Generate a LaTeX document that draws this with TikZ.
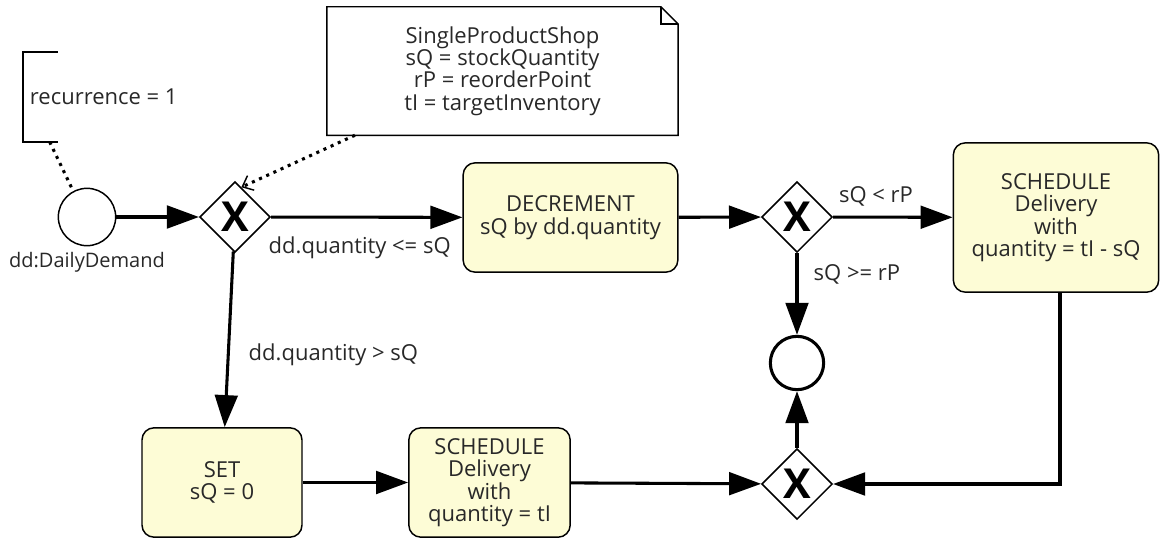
\documentclass[tikz,border=0pt]{standalone}
\usepackage{fontspec}
\setmainfont{Open Sans}
\usetikzlibrary{arrows.meta,shapes.geometric}
\definecolor{taskfill}{RGB}{253,252,214}
\definecolor{ink}{RGB}{40,40,40}

\begin{document}
\begin{tikzpicture}[x=0.75pt,y=-0.75pt,
    txt/.style={font=\fontsize{16.5}{16.8}\selectfont, align=center, text=ink},
    task/.style={txt, draw, line width=1.1pt, rounded corners=9pt, fill=taskfill, inner sep=0pt},
    gate/.style={diamond, draw, line width=1.1pt, inner sep=0pt, minimum width=53pt, minimum height=53pt,
        font=\fontsize{31}{31}\selectfont\bfseries},
    flow/.style={line width=2.3pt, -{Triangle[length=24pt,width=17pt]}},
    assoc/.style={line width=2.3pt, dash pattern=on 2.3pt off 3.6pt}]
    \useasboundingbox (0,0) rectangle (1161,539);

    \node[circle, draw, line width=1.1pt, minimum size=43pt, inner sep=0pt] (start) at (87,217) {};
    \node[txt, font=\fontsize{15}{16}\selectfont] (startlbl) at (87,262) {dd:DailyDemand};
    \node[txt, anchor=north west, minimum height=67pt, inner xsep=5pt, inner ysep=0pt] (recur) at (23,52) {recurrence = 1};
    \draw[line width=1.1pt] ([xshift=26pt]recur.north west) -- (recur.north west) -- (recur.south west) -- ([xshift=26pt]recur.south west);

    \node[gate] (g1) at (235,217) {X};
    \node[gate] (g2) at (797,217) {X};
    \node[gate] (g3) at (797,484) {X};
    \node[circle, draw, line width=2.3pt, minimum size=40pt, inner sep=0pt] (stop) at (797,363) {};

    \node[task, minimum width=161pt, minimum height=82pt] (decr) at (570.5,217.5) {DECREMENT\\sQ by dd.quantity};
    \node[task, minimum width=154pt, minimum height=112pt] (sched1) at (1056,217.5) {SCHEDULE\\Delivery\\with\\quantity = tI - sQ};
    \node[task, minimum width=120pt, minimum height=82pt] (set) at (222,482.5) {SET\\sQ = 0};
    \node[task, minimum width=121pt, minimum height=82pt] (sched2) at (489.5,482.5) {SCHEDULE\\Delivery\\with\\quantity = tI};

    \node[txt, minimum width=263pt, minimum height=96pt] (note) at (502.5,71) {SingleProductShop\\sQ = stockQuantity\\rP = reorderPoint\\tI = targetInventory};
    \draw[line width=1.1pt] (note.north west) -- ([xshift=-13pt]note.north east) -- ([yshift=-13pt]note.north east)
        -- (note.south east) -- (note.south west) -- cycle;
    \draw[line width=1.1pt] ([xshift=-13pt]note.north east) |- ([yshift=-13pt]note.north east);

    \draw[flow] (start) -- (g1);
    \draw[flow] (g1) -- (decr);
    \draw[flow] (decr) -- (g2);
    \draw[flow] (g2) -- (sched1);
    \draw[flow] (g2) -- (stop);
    \draw[flow] (g1) -- (set);
    \draw[flow] (set) -- (sched2);
    \draw[flow] (sched2) -- (g3);
    \draw[flow] (g3) -- (stop);
    \draw[flow] ([xshift=3pt]sched1.south) |- (g3);

    \draw[assoc] ([xshift=20pt]recur.south west) -- (start.118);
    \draw[assoc, -{Straight Barb[length=7pt,width=12pt,line width=1.1pt]}] ([xshift=21pt]note.south west) -- (g1.78);

    \node[txt, anchor=north west] (lbl1) at (264,232) {dd.quantity <= sQ};
    \node[txt, anchor=west] (lbl2) at (244,355) {dd.quantity > sQ};
    \node[txt] (lbl3) at (876,196) {sQ < rP};
    \node[txt, anchor=west] (lbl4) at (809,274) {sQ >= rP};
\end{tikzpicture}
\end{document}
